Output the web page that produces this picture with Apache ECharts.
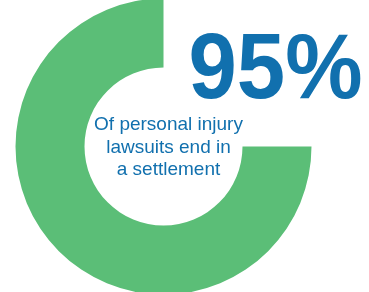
<!DOCTYPE html>
<html>
<head>
<meta charset="utf-8">
<script src="https://cdn.jsdelivr.net/npm/echarts@6/dist/echarts.min.js"></script>
<style>
  html, body { margin: 0; padding: 0; background: #ffffff; }
  #chart { width: 369px; height: 292px; }
</style>
</head>
<body>
<div id="chart"></div>
<script>
// arc shares as drawn in the ring (green part, empty part)
const sliceNames = ['Settled', 'Rest'];
const sliceValues = [75, 25];
const headline = '95%';
const captionLines = ['Of personal injury', 'lawsuits end in', 'a settlement'];

const GREEN = '#5bbe77';
const BLUE = '#1170ae';

const chart = echarts.init(document.getElementById('chart'));

chart.setOption({
  animation: false,
  series: [{
    type: 'pie',
    center: [163.5, 146.5],
    radius: [79, 148],
    startAngle: 0,
    clockwise: true,
    silent: true,
    label: { show: false },
    labelLine: { show: false },
    data: sliceNames.map((name, i) => ({
      name: name,
      value: sliceValues[i],
      itemStyle: { color: i === 0 ? GREEN : 'rgba(0,0,0,0)' }
    }))
  }],
  graphic: [
    {
      type: 'text',
      x: 275.5,
      y: 73,
      scaleX: 0.945,
      style: {
        text: headline,
        font: 'bold 92px "Liberation Sans", Arial, sans-serif',
        fill: BLUE,
        align: 'center',
        verticalAlign: 'middle'
      }
    }
  ].concat(captionLines.map((line, i) => ({
    type: 'text',
    x: 168.5,
    y: 125 + i * 22.5,
    style: {
      text: line,
      font: '19px "Liberation Sans", Arial, sans-serif',
      fill: BLUE,
      align: 'center',
      verticalAlign: 'middle'
    }
  })))
});

window.addEventListener('resize', () => {
  chart.resize();
});
</script>
</body>
</html>
